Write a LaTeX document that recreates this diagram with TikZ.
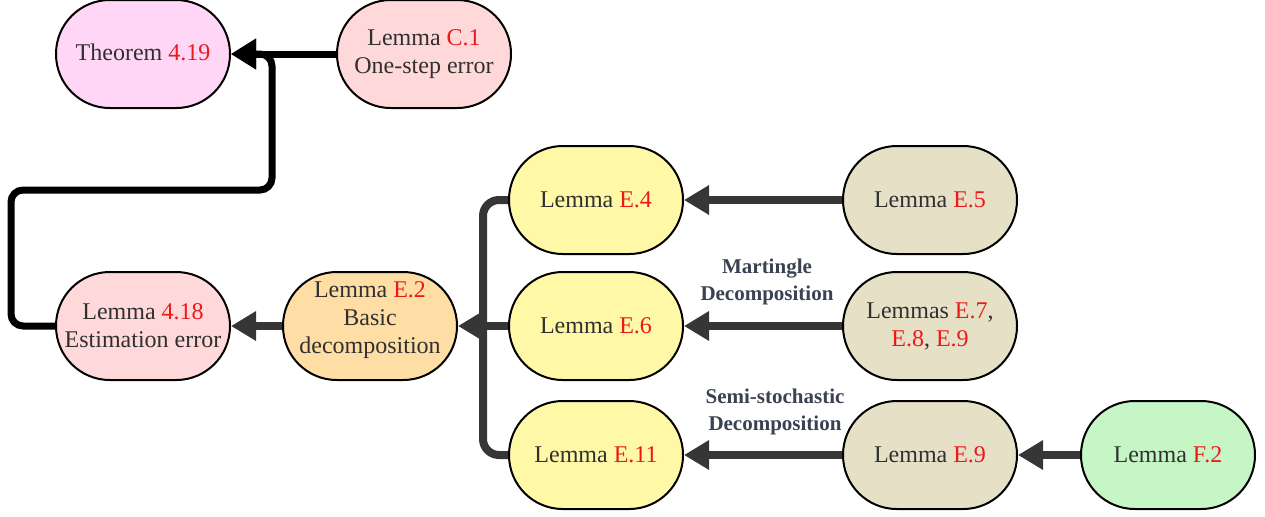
\documentclass[tikz,border=0pt]{standalone}
\usepackage{fontspec}
\setmainfont{Liberation Serif}
\usepackage{tikz}
\usetikzlibrary{arrows.meta, positioning}
\definecolor{txtgray}{HTML}{303030}
\definecolor{refred}{HTML}{EB1A1A}
\definecolor{thmfill}{HTML}{FFD6F6}
\definecolor{redfill}{HTML}{FFD9D9}
\definecolor{orangefill}{HTML}{FFDEA6}
\definecolor{yellowfill}{HTML}{FFF8A6}
\definecolor{beigefill}{HTML}{E6E0C7}
\definecolor{greenfill}{HTML}{C6F6C6}
\definecolor{edgegray}{HTML}{363636}
\definecolor{labelgray}{HTML}{3A4150}
\newcommand{\rf}[1]{\textcolor{refred}{#1}}

\begin{document}
\begin{tikzpicture}[x=0.5pt, y=-0.5pt,
  lemma/.style={draw=black, line width=1pt, rounded corners=26.9pt, minimum width=87pt, minimum height=54pt,
    align=center, text=txtgray, font=\fontsize{12}{14}\selectfont, inner sep=0pt},
  grayline/.style={draw=edgegray, line width=4pt},
  grayedge/.style={grayline, -{Triangle[length=12.5pt, width=14pt]}},
  blackedge/.style={draw=black, line width=3.5pt, -{Triangle[length=12.5pt, width=14.5pt]}},
  steplabel/.style={align=center, text=labelgray, font=\fontsize{10.5}{13.5}\selectfont\bfseries}]
\useasboundingbox (0,0) rectangle (1265,516);
\node[lemma, fill=thmfill] (thm) at (143,54) {\raisebox{2pt}{Theorem \rf{4.19}}};
\node[lemma, fill=redfill] (lemC) at (424,54) {Lemma \rf{C.1}\\One-step error};
\node[lemma, fill=redfill] (lem418) at (143,326) {Lemma \rf{4.18}\\Estimation error};
\node[lemma, fill=orangefill] (lemE2) at (370,326) {Lemma \rf{E.2}\\Basic\\decomposition\\[-6pt]};
\node[lemma, fill=yellowfill] (lemE4) at (596,200) {Lemma \rf{E.4}};
\node[lemma, fill=yellowfill] (lemE6) at (596,326) {Lemma \rf{E.6}};
\node[lemma, fill=yellowfill] (lemE11) at (596,455) {Lemma \rf{E.11}};
\node[lemma, fill=beigefill] (lemE5) at (930,200) {Lemma \rf{E.5}};
\node[lemma, fill=beigefill] (lemE7) at (930,326) {Lemmas \rf{E.7},\\\rf{E.8}, \rf{E.9}};
\node[lemma, fill=beigefill] (lemE9) at (930,455) {Lemma \rf{E.9}};
\node[lemma, fill=greenfill] (lemF2) at (1168,455) {Lemma \rf{F.2}};
\node[steplabel] (mart) at (767,282) {Martingle\\Decomposition};
\node[steplabel] (semi) at (775,412) {Semi-stochastic\\Decomposition};
\coordinate (fork) at (483,326);

\draw[blackedge] (lemC.west) -- (thm.east);
\draw[blackedge, rounded corners=6pt] (lem418.west) -- ++(-44,0) |- (272,190) |- (thm.east);
\draw[grayedge] (lemE2.west) -- (lem418.east);
\draw[grayline, rounded corners=8pt] (lemE4.west) -| (fork);
\draw[grayline, rounded corners=8pt] (lemE11.west) -| (fork);
\draw[grayedge] (lemE6.west) -- (lemE2.east);
\draw[grayedge] (lemE5.west) -- (lemE4.east);
\draw[grayedge] (lemE7.west) -- (lemE6.east);
\draw[grayedge] (lemE9.west) -- (lemE11.east);
\draw[grayedge] (lemF2.west) -- (lemE9.east);
\end{tikzpicture}
\end{document}
